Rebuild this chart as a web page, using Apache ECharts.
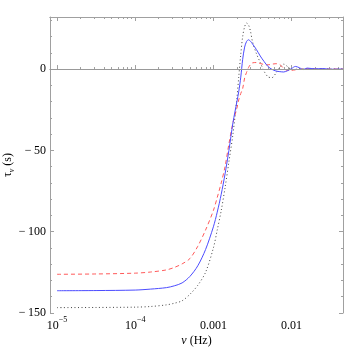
<!DOCTYPE html>
<html>
<head>
<meta charset="utf-8">
<script src="https://cdn.jsdelivr.net/npm/echarts@6/dist/echarts.min.js"></script>
<style>
  html, body { margin: 0; padding: 0; background: #fff; }
  #chart { width: 346px; height: 351px; }
</style>
</head>
<body>
<div id="chart"></div>
<script>
// frequency grid (Hz)
var nu = [1e-5, 3.16e-5, 1e-4, 1.58e-4, 2.51e-4, 3.16e-4, 3.98e-4, 5.01e-4, 6.31e-4,
  7.94e-4, 1.0e-3, 1.12e-3, 1.26e-3, 1.41e-3, 1.58e-3, 1.78e-3, 2.0e-3, 2.11e-3, 2.24e-3,
  2.37e-3, 2.51e-3, 2.66e-3, 2.82e-3, 2.99e-3, 3.16e-3, 3.55e-3, 3.98e-3, 4.47e-3, 5.01e-3,
  5.62e-3, 6.31e-3, 7.08e-3, 7.94e-3, 8.91e-3, 1.0e-2, 1.12e-2, 1.26e-2, 1.41e-2, 1.58e-2,
  2.0e-2, 2.51e-2, 3.16e-2, 4.55e-2]

// tau_nu (s)
var tauBlue = [-136.3, -136.2, -135.9, -135.3, -134.4, -133.3, -131.5, -127.5, -121,
  -111, -97, -88, -77, -64.5, -50, -33, -20, -14, -5,
  6, 13.5, 17, 18, 17, 15.5, 12, 8, 4.5, 1.5,
  -0.2, -1.2, -1.6, -1.8, -1.0, 0.3, 1.6, 0.8, -0.3, 0.6,
  0.1, 0.3, -0.1, 0]
var tauRed = [-126.2, -126.0, -125.5, -124.8, -123.5, -122.0, -119.8, -116.5, -109,
  -99, -87, -79, -70, -60, -46, -33, -24, -19, -15,
  -12, -5.5, -2, 1, 2.8, 3.8, 4.0, 3.4, 2.8, 2.6,
  3.0, 3.3, 2.7, 0.4, -0.9, -0.8, -0.5, -0.2, 0.1, 0.2,
  0, 0, 0, 0]
var tauDot = [-146.7, -146.6, -146.4, -146.0, -145.0, -144.0, -142.5, -138.5, -133,
  -125, -110, -99, -87, -73, -57, -40, -18, -5, 9,
  20, 26, 28.3, 27, 23, 17, 9.5, 4, -1.5, -4.8,
  -5.3, -2.5, 1.0, 3.0, 1.5, -0.3, -0.2, 0.3, 0.2, 0,
  0.1, 0, 0, 0]

var xMajor = [1e-5, 1e-4, 1e-3, 1e-2]
var xMinor = [2e-5, 3e-5, 4e-5, 5e-5, 6e-5, 7e-5, 8e-5, 9e-5,
  2e-4, 3e-4, 4e-4, 5e-4, 6e-4, 7e-4, 8e-4, 9e-4,
  2e-3, 3e-3, 4e-3, 5e-3, 6e-3, 7e-3, 8e-3, 9e-3,
  2e-2, 3e-2, 4e-2]
var yTicks = [-150, -100, -50, 0]

var xMin = 8.13e-6
var xMax = 4.55e-2
var frame = '#a0a0a0'
var serif = 'Liberation Serif'

function pairs (ys) {
  return nu.map(function (v, i) { return [v, ys[i]] })
}

function xLabel (v) {
  var p = Math.round(Math.log10(v))
  if (p <= -4) return '{b|10}{s|\u2212' + (-p) + '}'
  return '{b|' + (p === -3 ? '0.001' : '0.01') + '}'
}

function makeX (pos, major, label) {
  return {
    type: 'log',
    position: pos,
    min: xMin,
    max: xMax,
    axisLine: { show: true, lineStyle: { color: frame, width: 1 } },
    axisTick: {
      show: true, inside: true, length: major ? 4 : 2,
      customValues: major ? xMajor : xMinor,
      lineStyle: { color: frame }
    },
    axisLabel: {
      show: label,
      customValues: xMajor,
      formatter: xLabel,
      margin: 3,
      color: '#000',
      rich: {
        b: { fontFamily: serif, fontSize: 12, color: '#000', verticalAlign: 'bottom', lineHeight: 16 },
        s: { fontFamily: serif, fontSize: 8, color: '#000', verticalAlign: 'top', lineHeight: 16 }
      }
    },
    splitLine: { show: false },
    name: label ? '{i|\u03bd} (Hz)' : '',
    nameLocation: 'middle',
    nameGap: 22,
    nameMoveOverlap: false,
    nameTextStyle: {
      fontFamily: serif, fontSize: 12, color: '#000',
      rich: { i: { fontFamily: serif, fontStyle: 'italic', fontSize: 12, color: '#000' } }
    }
  }
}

function makeY (pos, label) {
  return {
    type: 'value',
    position: pos,
    min: -150,
    max: 32,
    interval: 50,
    axisLine: { show: true, lineStyle: { color: frame, width: 1 } },
    axisTick: { show: true, inside: true, length: 4, customValues: yTicks, lineStyle: { color: frame } },
    minorTick: { show: true, splitNumber: 5, length: 2, lineStyle: { color: frame } },
    axisLabel: {
      show: label,
      customValues: yTicks,
      margin: 4,
      fontFamily: serif,
      fontSize: 12,
      color: '#000',
      formatter: function (v) { return String(v).replace('-', '\u2212\u2009') }
    },
    splitLine: { show: false },
    name: label ? '\u03c4{sub|\u03bd} (s)' : '',
    nameLocation: 'middle',
    nameRotate: 90,
    nameGap: 34,
    nameMoveOverlap: false,
    nameTextStyle: {
      fontFamily: serif, fontSize: 12, color: '#000',
      rich: { sub: { fontFamily: serif, fontStyle: 'italic', fontSize: 8, color: '#000', verticalAlign: 'bottom', lineHeight: 16 } }
    }
  }
}

var chart = echarts.init(document.getElementById('chart'), null, { renderer: 'canvas' })
var option = {
  animation: false,
  backgroundColor: '#fff',
  grid: { left: 50, right: 3, top: 17, bottom: 38, outerBoundsMode: 'none' },
  xAxis: [
    makeX('bottom', true, true),
    makeX('bottom', false, false),
    makeX('top', true, false),
    makeX('top', false, false)
  ],
  yAxis: [
    makeY('left', true),
    makeY('right', false)
  ],
  series: [
    {
      name: 'dotted',
      type: 'line',
      data: pairs(tauDot),
      smooth: 0.3,
      showSymbol: false,
      lineStyle: { color: '#444', width: 1, type: [1, 2.5] },
      markLine: {
        silent: true,
        symbol: 'none',
        label: { show: false },
        lineStyle: { color: '#999', width: 1, type: 'solid' },
        data: [{ yAxis: 0 }]
      }
    },
    {
      name: 'dashed',
      type: 'line',
      data: pairs(tauRed),
      smooth: 0.3,
      showSymbol: false,
      lineStyle: { color: '#ff5a5a', width: 1, type: [4, 3] }
    },
    {
      name: 'solid',
      type: 'line',
      data: pairs(tauBlue),
      smooth: 0.3,
      showSymbol: false,
      lineStyle: { color: '#4c4cff', width: 1 }
    }
  ]
}
chart.setOption(option)
</script>
</body>
</html>
